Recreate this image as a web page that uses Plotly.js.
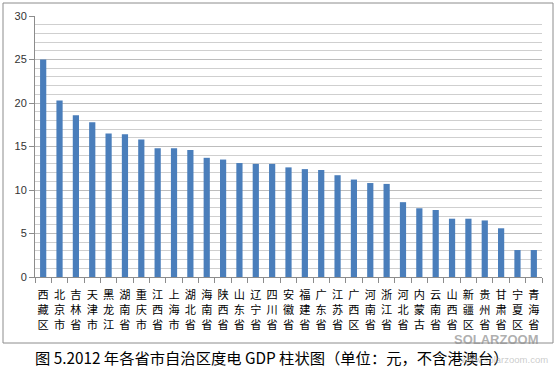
<!DOCTYPE html>
<html>
<head>
<meta charset="utf-8">
<script src="https://cdn.plot.ly/plotly-3.0.1.min.js"></script>
<style>html,body{margin:0;padding:0;background:#fff;}#chart{width:557px;height:372px;}</style>
</head>
<body>
<div id="chart"></div>
<script>
const provinces = ["西藏区","北京市","吉林省","天津市","黑龙江","湖南省","重庆市","江西省","上海市","湖北省","海南省","陕西省","山东省","辽宁省","四川省","安徽省","福建省","广东省","江苏省","广西区","河南省","浙江省","河北省","内蒙古","云南省","山西省","新疆区","贵州省","甘肃省","宁夏区","青海省"];
const gdpPerKwh = [25.0,20.3,18.6,17.8,16.5,16.4,15.8,14.8,14.8,14.6,13.7,13.5,13.1,13.0,13.0,12.6,12.4,12.3,11.7,11.2,10.8,10.7,8.6,7.9,7.7,6.7,6.7,6.5,5.6,3.1,3.1];
const yTicks = [0,5,10,15,20,25,30];
const captionText = "图 5.2012 年各省市自治区度电 GDP 柱状图（单位：元，不含港澳台）";

const tickText = provinces.map(p => p.split("").join("<br>"));

const trace = {
  type: "bar",
  x: provinces,
  y: gdpPerKwh,
  marker: {color: "#4a7ebb"},
  hoverinfo: "x+y"
};

const W = 557, H = 372, L = 35, R = 15, T = 16, B = 95;
const pw = W - L - R, ph = H - T - B;
const px = x => (x - L) / pw;
const py = y => 1 - (y - T) / ph;

const layout = {
  width: W, height: H,
  margin: {l: L, r: R, t: T, b: B, pad: 0},
  paper_bgcolor: "#fff",
  plot_bgcolor: "#fff",
  showlegend: false,
  bargap: 0.62,
  font: {family: "Noto Sans CJK SC, sans-serif", color: "#000"},
  xaxis: {
    type: "category",
    tickmode: "array",
    tickvals: provinces,
    ticktext: tickText,
    tickangle: 0,
    ticks: "outside",
    tickson: "boundaries",
    ticklen: 5,
    tickcolor: "#8c8c8c",
    ticklabelstandoff: 8,
    showline: true,
    linecolor: "#8c8c8c",
    showgrid: false,
    tickfont: {family: "Noto Sans CJK SC", size: 11.2, color: "#000"},
    fixedrange: true
  },
  yaxis: {
    range: [0, 30],
    tickmode: "array",
    tickvals: yTicks,
    ticktext: yTicks.map(String),
    ticks: "outside",
    ticklen: 5,
    tickcolor: "#8c8c8c",
    showline: true,
    linecolor: "#8c8c8c",
    showgrid: true,
    gridcolor: "#bdbdbd",
    zeroline: false,
    tickfont: {family: "Liberation Sans, Arial, sans-serif", size: 11, color: "#333"},
    minor: {dtick: 1, tick0: 0, showgrid: true, gridcolor: "#cfcfcf", gridwidth: 1},
    fixedrange: true
  },
  shapes: [{
    type: "rect", xref: "paper", yref: "paper",
    x0: px(3), x1: px(553), y0: py(343), y1: py(3),
    line: {color: "#8c8c8c", width: 1}, fillcolor: "rgba(0,0,0,0)", layer: "below"
  }],
  annotations: [
    {xref: "paper", yref: "paper", x: px(272), y: py(357), text: captionText, showarrow: false,
     font: {family: "Noto Sans CJK SC", size: 15.3, color: "#000"}, xanchor: "center", yanchor: "middle"},
    {xref: "paper", yref: "paper", x: px(496), y: py(339), text: "<b>SOLARZOOM</b>", showarrow: false,
     font: {family: "Liberation Sans, Arial", size: 13, color: "rgba(140,140,140,0.7)"}, xanchor: "center", yanchor: "middle"},
    {xref: "paper", yref: "paper", x: px(504), y: py(359), text: "www.solarzoom.com", showarrow: false,
     font: {family: "Liberation Sans, Arial", size: 9.5, color: "rgba(150,150,150,0.5)"}, xanchor: "center", yanchor: "middle"}
  ]
};

Plotly.newPlot("chart", [trace], layout, {displayModeBar: false, staticPlot: true});
</script>
</body>
</html>
